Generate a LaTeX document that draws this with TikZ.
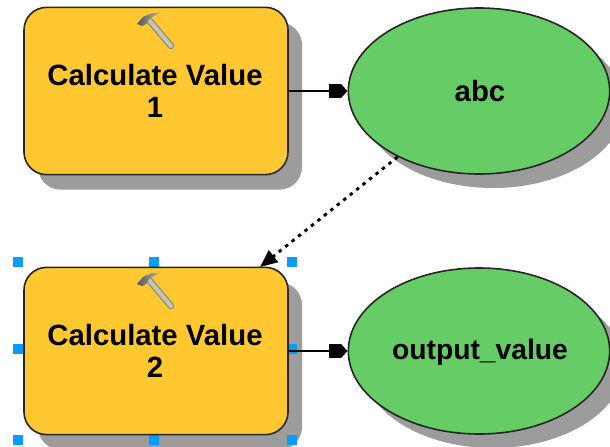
\documentclass[tikz,border=0pt]{standalone}
\usepackage{fontspec}
\setmainfont{Liberation Sans}
\usetikzlibrary{arrows.meta,shapes.geometric}
\definecolor{toolfill}{HTML}{FFC830}
\definecolor{datafill}{HTML}{66CC66}
\definecolor{shadowgray}{HTML}{9C9C9C}
\definecolor{handle}{HTML}{C9C5AE}
\definecolor{handleedge}{HTML}{8C8C84}
\definecolor{headdark}{HTML}{555555}
\definecolor{headlight}{HTML}{B4B4B4}
\definecolor{selblue}{HTML}{0A9BFF}
\tikzset{
  x=0.75pt,y=-0.75pt,
  toolbox/.style={draw=black!85,line width=1.2pt,fill=toolfill,rounded corners=17pt,minimum width=198pt,minimum height=125.5pt,inner sep=0pt},
  databox/.style={draw=black!85,line width=1.2pt,fill=datafill,ellipse,minimum width=196pt,minimum height=124.5pt,inner sep=0pt},
  shadowbox/.style={fill=shadowgray,rounded corners=17pt,minimum width=198pt,minimum height=125.5pt,inner sep=0pt},
  shadowell/.style={fill=shadowgray,ellipse,minimum width=196pt,minimum height=124.5pt,inner sep=0pt},
  lbl/.style={font=\bfseries\fontsize{22pt}{23.5pt}\selectfont,align=center,text=black},
  lblwide/.style={font=\bfseries\fontsize{21.2pt}{23.5pt}\selectfont,align=center,text=black},
  flow/.style={line width=2.2pt,-{Square[length=9pt,width=10.5pt]Triangle[length=5pt,width=10.5pt]}},
  dep/.style={line width=2.2pt,dash pattern=on 2.6pt off 3.6pt,-{Triangle[length=13pt,width=11pt]}},
  handlesq/.style={fill=selblue,minimum size=7.5pt,inner sep=0pt}
}
\newcommand{\hammer}[2]{%
  \begin{scope}[shift={(#1,#2)}]
    \draw[line cap=round,line width=5pt,draw=handleedge] (-6,-8) -- (16,18);
    \draw[line cap=round,line width=3pt,draw=handle] (-6,-8) -- (16,18);
    \shade[left color=headdark,right color=headlight] (-18,-4) -- (-12,-11) -- (-3,-15) -- (5,-15) -- (-5,-10) -- (-9,-4) -- (-13,-2) -- cycle;
  \end{scope}}
\begin{document}
\begin{tikzpicture}
\useasboundingbox (0,0) rectangle (610,446);
\fill[white] (0,0) rectangle (610,446);
% shadows
\node[shadowbox] at (170,106) {};
\node[shadowbox] at (170,366) {};
\node[shadowell] at (493,105) {};
\node[shadowell] at (493,365) {};
% selection handles
\foreach \px/\py in {18/262,154/262,292/262,18/349,292/349,18/440,154/440,292/440}
  \node[handlesq] at (\px,\py) {};
% nodes
\node[toolbox] (calcA) at (156,91) {};
\node[toolbox] (calcB) at (156,351) {};
\node[databox] (abc) at (479,91) {};
\node[databox] (out) at (479,351) {};
\node[lbl] at (155,91) {Calculate Value\\1};
\node[lbl] at (155,351) {Calculate Value\\2};
\node[lbl] at (480,91.5) {abc};
\node[lblwide] at (480,352) {output\_value};
\hammer{155}{28}
\hammer{155}{288}
% connectors
\draw[flow] (calcA.east) -- (abc.west);
\draw[flow] (calcB.east) -- (out.west);
\coordinate (depEnd) at (260,267);
\draw[dep] (abc.219) -- (depEnd);
\end{tikzpicture}
\end{document}
